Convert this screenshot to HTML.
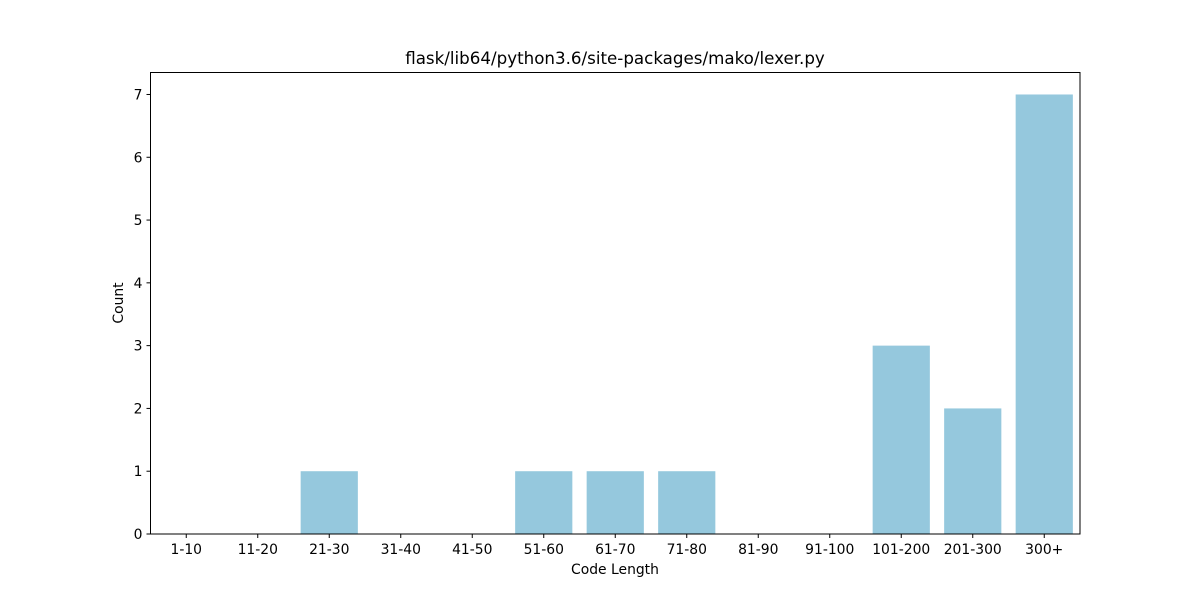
<!DOCTYPE html>
<html><head><meta charset="utf-8"><style>
body{margin:0;background:#fff;}
svg text{font-family:"DejaVu Sans","Liberation Sans",sans-serif;fill:#000;}
</style></head><body>
<svg id="chart" width="1200" height="600" viewBox="0 0 1200 600" xmlns="http://www.w3.org/2000/svg">
<rect width="1200" height="600" fill="#fff"/>
<text x="615" y="64" text-anchor="middle" font-size="16.7">flask/lib64/python3.6/site-packages/mako/lexer.py</text>
<g id="bars"></g>
<g id="xticks"></g>
<g id="yticks"></g>
<rect x="150.5" y="72.5" width="929.5" height="461.5" fill="none" stroke="#000" stroke-width="1"/>
<text x="615" y="574" text-anchor="middle" font-size="13.9">Code Length</text>
<text transform="translate(123,303) rotate(-90)" text-anchor="middle" font-size="13.9">Count</text>
</svg>
<script>
const categories=["1-10","11-20","21-30","31-40","41-50","51-60","61-70","71-80","81-90","91-100","101-200","201-300","300+"];
const counts=[0,0,1,0,0,1,1,1,0,0,3,2,7];
const yTicks=[0,1,2,3,4,5,6,7];
const L=150.5,R=1080,T=72.5,B=534,yMax=7.35;
const NS="http://www.w3.org/2000/svg";
const band=(R-L)/categories.length;
const xPos=i=>L+band*(i+0.5);
const yPos=v=>B-(v/yMax)*(B-T);
const bars=document.getElementById('bars'),xt=document.getElementById('xticks'),yt=document.getElementById('yticks');
categories.forEach((c,i)=>{
  const r=document.createElementNS(NS,'rect');
  
  
  const w=band*0.8;
  r.setAttribute('x',xPos(i)-w/2);r.setAttribute('width',w);
  r.setAttribute('y',yPos(counts[i]));r.setAttribute('height',B-yPos(counts[i]));
  r.setAttribute('fill','#95c8dd');
  bars.appendChild(r);
  const l=document.createElementNS(NS,'line');
  
  
  l.setAttribute('x1',xPos(i));l.setAttribute('x2',xPos(i));l.setAttribute('y1',B);l.setAttribute('y2',B+4);l.setAttribute('stroke','#000');
  xt.appendChild(l);
  const t=document.createElementNS(NS,'text');
  
  
  t.setAttribute('x',xPos(i));t.setAttribute('y',554);t.setAttribute('text-anchor','middle');t.setAttribute('font-size','13.9');
  t.textContent=c;xt.appendChild(t);
});
yTicks.forEach(v=>{
  const l=document.createElementNS(NS,'line');
  
  
  l.setAttribute('x1',L-4);l.setAttribute('x2',L);l.setAttribute('y1',yPos(v));l.setAttribute('y2',yPos(v));l.setAttribute('stroke','#000');
  yt.appendChild(l);
  const t=document.createElementNS(NS,'text');
  
  
  t.setAttribute('x',L-8);t.setAttribute('y',yPos(v)+5);t.setAttribute('text-anchor','end');t.setAttribute('font-size','13.9');
  t.textContent=v;yt.appendChild(t);
});
</script>
</body></html>
